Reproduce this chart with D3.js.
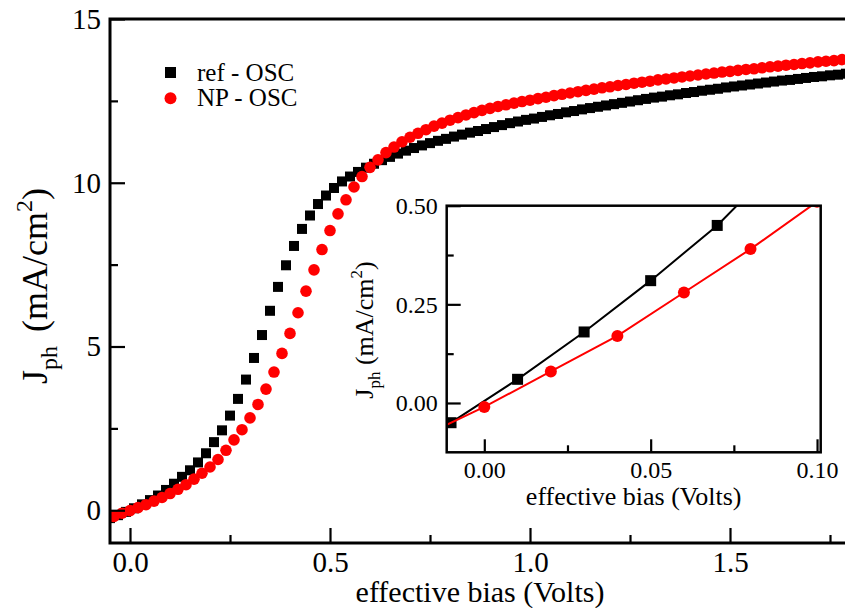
<!DOCTYPE html>
<html><head><meta charset="utf-8">
<script src="https://cdn.jsdelivr.net/npm/d3@7"></script>
<style>body{margin:0;background:#fff}svg{display:block}svg text{font-family:"Liberation Serif","Times New Roman",serif !important}</style>
</head><body><svg id="c" width="845" height="608"></svg>
<script>
// ---- data (effective bias in Volts, Jph in mA/cm^2) ----
const refX = [-0.05,-0.03,-0.01,0.01,0.03,0.05,0.07,0.09,0.11,0.13,0.15,0.17,0.19,0.21,0.23,0.25,0.27,0.29,0.31,0.33,0.35,0.37,0.39,0.41,0.43,0.45,0.47,0.49,0.51,0.53,0.55,0.57,0.59,0.61,0.63,0.65,0.67,0.69,0.71,0.73,0.75,0.77,0.79,0.81,0.83,0.85,0.87,0.89,0.91,0.93,0.95,0.97,0.99,1.01,1.03,1.05,1.07,1.09,1.11,1.13,1.15,1.17,1.19,1.21,1.23,1.25,1.27,1.29,1.31,1.33,1.35,1.37,1.39,1.41,1.43,1.45,1.47,1.49,1.51,1.53,1.55,1.57,1.59,1.61,1.63,1.65,1.67,1.69,1.71,1.73,1.75,1.77,1.79];
const refY = [-0.24,-0.15,-0.05,0.06,0.18,0.31,0.45,0.62,0.81,1.02,1.22,1.46,1.74,2.08,2.44,2.89,3.40,3.99,4.65,5.35,6.09,6.82,7.48,8.07,8.59,9.00,9.35,9.61,9.84,10.04,10.19,10.33,10.46,10.58,10.69,10.79,10.89,10.98,11.06,11.14,11.21,11.28,11.34,11.41,11.47,11.53,11.58,11.64,11.70,11.76,11.82,11.87,11.92,11.96,12.01,12.06,12.10,12.15,12.19,12.24,12.28,12.32,12.36,12.40,12.44,12.48,12.52,12.56,12.60,12.63,12.67,12.70,12.74,12.77,12.81,12.84,12.87,12.91,12.94,12.97,13.00,13.03,13.06,13.09,13.12,13.14,13.17,13.20,13.23,13.25,13.28,13.30,13.33];
const npX = [-0.04,-0.02,0.00,0.02,0.04,0.06,0.08,0.10,0.12,0.14,0.16,0.18,0.20,0.22,0.24,0.26,0.28,0.30,0.32,0.34,0.36,0.38,0.40,0.42,0.44,0.46,0.48,0.50,0.52,0.54,0.56,0.58,0.60,0.62,0.64,0.66,0.68,0.70,0.72,0.74,0.76,0.78,0.80,0.82,0.84,0.86,0.88,0.90,0.92,0.94,0.96,0.98,1.00,1.02,1.04,1.06,1.08,1.10,1.12,1.14,1.16,1.18,1.20,1.22,1.24,1.26,1.28,1.30,1.32,1.34,1.36,1.38,1.40,1.42,1.44,1.46,1.48,1.50,1.52,1.54,1.56,1.58,1.60,1.62,1.64,1.66,1.68,1.70,1.72,1.74,1.76,1.78,1.80];
const npY = [-0.19,-0.09,-0.01,0.08,0.17,0.28,0.39,0.51,0.64,0.78,0.95,1.13,1.32,1.55,1.83,2.15,2.46,2.82,3.23,3.70,4.22,4.79,5.40,6.03,6.69,7.34,7.96,8.54,9.05,9.48,9.87,10.19,10.47,10.70,10.92,11.09,11.25,11.39,11.51,11.62,11.73,11.82,11.91,11.99,12.07,12.14,12.21,12.27,12.33,12.38,12.43,12.48,12.52,12.57,12.61,12.66,12.70,12.74,12.78,12.82,12.86,12.90,12.93,12.97,13.00,13.04,13.07,13.10,13.14,13.17,13.20,13.23,13.26,13.29,13.32,13.35,13.38,13.40,13.43,13.46,13.48,13.51,13.54,13.56,13.59,13.61,13.64,13.66,13.69,13.71,13.73,13.76,13.78];
const seriesNames = ["ref - OSC", "NP - OSC"];
const seriesColors = ["#000000", "#ff0000"];

const mainXTicks = [0, 0.5, 1.0, 1.5];
const mainXMinor = [0.25, 0.75, 1.25, 1.75];
const mainYTicks = [0, 5, 10, 15];
const mainYMinor = [2.5, 7.5, 12.5];
const insetXTicks = [0, 0.05, 0.10];
const insetXMinor = [0.025, 0.075];
const insetYTicks = [0, 0.25, 0.50];
const insetYMinor = [0.125, 0.375];

const refData = refX.map((x, i) => ({x, y: refY[i]}));
const npData = npX.map((x, i) => ({x, y: npY[i]}));

const FONT = '"Liberation Serif","Times New Roman",serif';
const svg = d3.select("#c").attr("font-family", FONT);

// ---- main plot ----
const x = d3.scaleLinear([-0.05, 1.8], [110, 850]);
const y = d3.scaleLinear([-1, 15], [543, 19]);

svg.append("defs").append("clipPath").attr("id", "mainClip")
  .append("rect").attr("x", 110).attr("y", 19).attr("width", 740).attr("height", 524);

const main = svg.append("g");
const mc = main.append("g").attr("clip-path", "url(#mainClip)");
const sq = 10;
mc.selectAll("rect.ref").data(refData).join("rect").attr("class", "ref")
  .attr("x", d => x(d.x) - sq/2).attr("y", d => y(d.y) - sq/2)
  .attr("width", sq).attr("height", sq).attr("fill", seriesColors[0]);
mc.selectAll("circle.np").data(npData).join("circle").attr("class", "np")
  .attr("cx", d => x(d.x)).attr("cy", d => y(d.y)).attr("r", 5.8).attr("fill", seriesColors[1]);

function styleAxis(g, fs) {
  g.attr("font-family", FONT).attr("font-size", fs);
  g.select(".domain").remove();
  g.selectAll("line").attr("stroke", "#000").attr("stroke-width", 2.2);
  g.selectAll("text").attr("fill", "#000").attr("font-family", FONT).attr("font-size", fs);
}

main.append("g").attr("transform", "translate(0,543)")
  .call(d3.axisBottom(x).tickValues(mainXTicks).tickSize(-15).tickPadding(8).tickFormat(d3.format(".1f")))
  .call(g => styleAxis(g, 29));
main.append("g").attr("transform", "translate(0,543)")
  .call(d3.axisBottom(x).tickValues(mainXMinor).tickSize(-8).tickFormat(""))
  .call(g => styleAxis(g, 29));
main.append("g").attr("transform", "translate(110,0)")
  .call(d3.axisLeft(y).tickValues(mainYTicks).tickSize(-15).tickPadding(9).tickFormat(d3.format("d")))
  .call(g => styleAxis(g, 29));
main.append("g").attr("transform", "translate(110,0)")
  .call(d3.axisLeft(y).tickValues(mainYMinor).tickSize(-8).tickFormat(""))
  .call(g => styleAxis(g, 29));

main.append("rect").attr("x", 110).attr("y", 19).attr("width", 740).attr("height", 524)
  .attr("fill", "none").attr("stroke", "#000").attr("stroke-width", 3);

main.append("text").attr("x", 480).attr("y", 602).attr("text-anchor", "middle")
  .attr("font-size", 30).text("effective bias (Volts)");

const yl = main.append("text").attr("transform", "translate(47,286) rotate(-90)")
  .attr("text-anchor", "middle").attr("font-size", 36);
yl.append("tspan").text("J");
yl.append("tspan").attr("dy", 10).attr("font-size", 24).text("ph");
yl.append("tspan").attr("dy", -10).attr("dx", 5).text(" (mA/cm");
yl.append("tspan").attr("dy", -15).attr("font-size", 24).text("2");
yl.append("tspan").attr("dy", 15).text(")");

// legend
const lg = main.append("g");
lg.append("rect").attr("x", 170.5 - 5.5).attr("y", 72.5 - 5.5).attr("width", 11).attr("height", 11).attr("fill", seriesColors[0]);
lg.append("circle").attr("cx", 170.5).attr("cy", 98.3).attr("r", 6).attr("fill", seriesColors[1]);
lg.append("text").attr("x", 197).attr("y", 81).attr("font-size", 25).text(seriesNames[0]);
lg.append("text").attr("x", 197).attr("y", 106).attr("font-size", 25).text(seriesNames[1]);

// ---- inset ----
const ix = d3.scaleLinear([-0.0113, 0.1011], [446.7, 820.7]);
const iy = d3.scaleLinear([-0.125, 0.5], [452.3, 205.7]);
svg.select("defs").append("clipPath").attr("id", "insetClip")
  .append("rect").attr("x", 446.7).attr("y", 205.7).attr("width", 374).attr("height", 246.6);

const ins = svg.append("g");
ins.append("rect").attr("x", 446.7).attr("y", 205.7).attr("width", 374).attr("height", 246.6).attr("fill", "#fff");
const ic = ins.append("g").attr("clip-path", "url(#insetClip)");
const line = d3.line().x(d => ix(d.x)).y(d => iy(d.y));
ic.append("path").datum(refData).attr("d", line).attr("fill", "none").attr("stroke", seriesColors[0]).attr("stroke-width", 2);
ic.selectAll("rect.iref").data(refData).join("rect").attr("class", "iref")
  .attr("x", d => ix(d.x) - 5.5).attr("y", d => iy(d.y) - 5.5)
  .attr("width", 11).attr("height", 11).attr("fill", seriesColors[0]);
ic.append("path").datum(npData).attr("d", line).attr("fill", "none").attr("stroke", seriesColors[1]).attr("stroke-width", 2);
ic.selectAll("circle.inp").data(npData).join("circle").attr("class", "inp")
  .attr("cx", d => ix(d.x)).attr("cy", d => iy(d.y)).attr("r", 6).attr("fill", seriesColors[1]);

ins.append("g").attr("transform", "translate(0,452.3)")
  .call(d3.axisBottom(ix).tickValues(insetXTicks).tickSize(-13).tickPadding(9).tickFormat(d3.format(".2f")))
  .call(g => styleAxis(g, 24));
ins.append("g").attr("transform", "translate(0,452.3)")
  .call(d3.axisBottom(ix).tickValues(insetXMinor).tickSize(-7).tickFormat(""))
  .call(g => styleAxis(g, 24));
ins.append("g").attr("transform", "translate(446.7,0)")
  .call(d3.axisLeft(iy).tickValues(insetYTicks).tickSize(-14).tickPadding(9).tickFormat(d3.format(".2f")))
  .call(g => styleAxis(g, 24));
ins.append("g").attr("transform", "translate(446.7,0)")
  .call(d3.axisLeft(iy).tickValues(insetYMinor).tickSize(-7).tickFormat(""))
  .call(g => styleAxis(g, 24));
ins.append("rect").attr("x", 446.7).attr("y", 205.7).attr("width", 374).attr("height", 246.6)
  .attr("fill", "none").attr("stroke", "#000").attr("stroke-width", 2.5);

ins.append("text").attr("x", 633.7).attr("y", 505).attr("text-anchor", "middle")
  .attr("font-size", 26).text("effective bias (Volts)");
const iyl = ins.append("text").attr("transform", "translate(373,330) rotate(-90)")
  .attr("text-anchor", "middle").attr("font-size", 26);
iyl.append("tspan").text("J");
iyl.append("tspan").attr("dy", 7).attr("font-size", 17).text("ph");
iyl.append("tspan").attr("dy", -7).text(" (mA/cm");
iyl.append("tspan").attr("dy", -11).attr("font-size", 17).text("2");
iyl.append("tspan").attr("dy", 11).text(")");
</script></body></html>
